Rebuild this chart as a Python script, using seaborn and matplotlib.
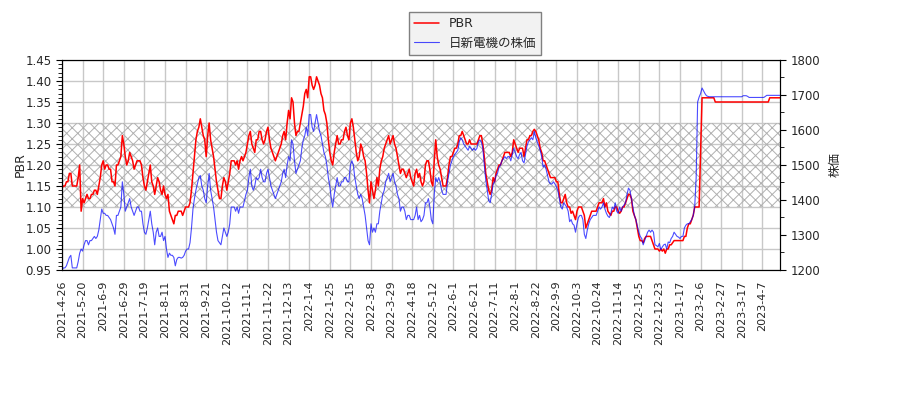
import numpy as np
import pandas as pd
import seaborn as sns
import matplotlib.pyplot as plt
from matplotlib.ticker import MultipleLocator

# x axis = trading day index, a label every 14 trading days
tick_labels = ["2021-4-26", "2021-5-20", "2021-6-9", "2021-6-29", "2021-7-19",
               "2021-8-11", "2021-8-31", "2021-9-21", "2021-10-12", "2021-11-1",
               "2021-11-22", "2021-12-13", "2022-1-4", "2022-1-25", "2022-2-15",
               "2022-3-8", "2022-3-29", "2022-4-18", "2022-5-12", "2022-6-1",
               "2022-6-21", "2022-7-11", "2022-8-1", "2022-8-22", "2022-9-9",
               "2022-10-3", "2022-10-24", "2022-11-14", "2022-12-5", "2022-12-23",
               "2023-1-17", "2023-2-6", "2023-2-27", "2023-3-17", "2023-4-7"]

pbr = [
    1.145, 1.15, 1.15, 1.16, 1.16, 1.18, 1.18, 1.15, 1.15, 1.15,
    1.15, 1.17, 1.20, 1.09, 1.12, 1.11, 1.12, 1.13, 1.12, 1.12,
    1.13, 1.13, 1.14, 1.14, 1.13, 1.15, 1.17, 1.20, 1.21, 1.19,
    1.20, 1.20, 1.19, 1.19, 1.16, 1.16, 1.15, 1.20, 1.20, 1.21,
    1.22, 1.27, 1.25, 1.22, 1.20, 1.21, 1.23, 1.22, 1.21, 1.19,
    1.20, 1.21, 1.21, 1.21, 1.20, 1.17, 1.15, 1.14, 1.16, 1.18,
    1.20, 1.16, 1.15, 1.13, 1.15, 1.17, 1.16, 1.14, 1.13, 1.15,
    1.13, 1.12, 1.13, 1.09, 1.08, 1.07, 1.06, 1.08, 1.08, 1.09,
    1.09, 1.09, 1.08, 1.09, 1.10, 1.10, 1.10, 1.11, 1.14, 1.18,
    1.22, 1.26, 1.28, 1.29, 1.31, 1.29, 1.27, 1.26, 1.22, 1.27,
    1.30, 1.26, 1.24, 1.22, 1.19, 1.16, 1.14, 1.12, 1.12, 1.15,
    1.17, 1.16, 1.14, 1.16, 1.18, 1.21, 1.21, 1.21, 1.20, 1.21,
    1.19, 1.21, 1.22, 1.21, 1.22, 1.23, 1.25, 1.27, 1.28, 1.25,
    1.24, 1.23, 1.26, 1.26, 1.28, 1.28, 1.26, 1.25, 1.26, 1.28,
    1.29, 1.26, 1.24, 1.23, 1.22, 1.21, 1.22, 1.23, 1.24, 1.25,
    1.27, 1.28, 1.26, 1.30, 1.33, 1.31, 1.36, 1.35, 1.30, 1.27,
    1.28, 1.28, 1.30, 1.32, 1.34, 1.37, 1.38, 1.36, 1.41, 1.41,
    1.39, 1.38, 1.39, 1.41, 1.40, 1.39, 1.37, 1.36, 1.33, 1.32,
    1.30, 1.26, 1.23, 1.21, 1.20, 1.23, 1.25, 1.27, 1.25, 1.25,
    1.26, 1.26, 1.28, 1.29, 1.27, 1.26, 1.30, 1.31, 1.29, 1.26,
    1.23, 1.21, 1.22, 1.25, 1.24, 1.22, 1.21, 1.18, 1.14, 1.11,
    1.16, 1.14, 1.12, 1.14, 1.17, 1.15, 1.19, 1.21, 1.22, 1.24,
    1.25, 1.26, 1.27, 1.25, 1.26, 1.27, 1.25, 1.24, 1.22, 1.20,
    1.18, 1.19, 1.19, 1.18, 1.17, 1.18, 1.19, 1.17, 1.16, 1.15,
    1.18, 1.19, 1.17, 1.18, 1.16, 1.15, 1.16, 1.20, 1.21, 1.21,
    1.19, 1.16, 1.15, 1.21, 1.26, 1.22, 1.20, 1.19, 1.17, 1.15,
    1.15, 1.15, 1.17, 1.20, 1.22, 1.22, 1.23, 1.24, 1.24, 1.25,
    1.27, 1.27, 1.28, 1.27, 1.26, 1.25, 1.25, 1.26, 1.25, 1.25,
    1.25, 1.25, 1.25, 1.26, 1.27, 1.27, 1.25, 1.22, 1.18, 1.16,
    1.14, 1.13, 1.14, 1.17, 1.16, 1.18, 1.19, 1.20, 1.20, 1.21,
    1.22, 1.23, 1.23, 1.23, 1.23, 1.22, 1.23, 1.26, 1.25, 1.24,
    1.23, 1.24, 1.24, 1.24, 1.22, 1.24, 1.26, 1.26, 1.27, 1.27,
    1.28, 1.285, 1.28, 1.27, 1.26, 1.24, 1.23, 1.21, 1.21, 1.20,
    1.19, 1.18, 1.17, 1.17, 1.17, 1.17, 1.16, 1.16, 1.13, 1.11,
    1.11, 1.12, 1.13, 1.11, 1.10, 1.10, 1.085, 1.09, 1.08, 1.07,
    1.09, 1.10, 1.10, 1.10, 1.09, 1.08, 1.05, 1.06, 1.07, 1.08,
    1.09, 1.09, 1.09, 1.09, 1.10, 1.11, 1.11, 1.11, 1.12, 1.10,
    1.11, 1.09, 1.085, 1.08, 1.09, 1.09, 1.10, 1.10, 1.09, 1.085,
    1.09, 1.10, 1.10, 1.11, 1.12, 1.13, 1.13, 1.12, 1.09, 1.08,
    1.07, 1.05, 1.03, 1.02, 1.02, 1.015, 1.025, 1.03, 1.03, 1.03,
    1.03, 1.02, 1.01, 1.00, 1.00, 1.00, 0.995, 1.00, 0.995, 1.00,
    0.99, 1.00, 1.00, 1.01, 1.01, 1.015, 1.02, 1.02, 1.02, 1.02,
    1.02, 1.02, 1.02, 1.03, 1.03, 1.05, 1.06, 1.06, 1.07, 1.08,
    1.10, 1.10, 1.10, 1.10, 1.23, 1.36, 1.36, 1.36, 1.36, 1.36,
    1.36, 1.36, 1.36, 1.36, 1.35, 1.35, 1.35, 1.35, 1.35, 1.35,
    1.35, 1.35, 1.35, 1.35, 1.35, 1.35, 1.35, 1.35, 1.35, 1.35,
    1.35, 1.35, 1.35, 1.35, 1.35, 1.35, 1.35, 1.35, 1.35, 1.35,
    1.35, 1.35, 1.35, 1.35, 1.35, 1.35, 1.35, 1.35, 1.35, 1.35,
    1.35, 1.36, 1.36, 1.36, 1.36, 1.36, 1.36, 1.36, 1.36,
]

price = [
    1200, 1206, 1206, 1212, 1224, 1236, 1242, 1206, 1206, 1206,
    1206, 1224, 1248, 1260, 1254, 1272, 1284, 1284, 1272, 1284,
    1284, 1290, 1296, 1290, 1296, 1314, 1344, 1374, 1362, 1362,
    1356, 1356, 1350, 1344, 1332, 1320, 1302, 1356, 1356, 1368,
    1380, 1452, 1416, 1368, 1380, 1392, 1404, 1380, 1368, 1356,
    1368, 1380, 1380, 1368, 1368, 1332, 1308, 1302, 1320, 1344,
    1368, 1332, 1308, 1272, 1308, 1320, 1296, 1296, 1308, 1284,
    1296, 1260, 1236, 1248, 1242, 1242, 1236, 1212, 1230, 1236,
    1236, 1234, 1236, 1242, 1254, 1260, 1260, 1278, 1320, 1374,
    1404, 1428, 1446, 1464, 1470, 1440, 1428, 1404, 1392, 1440,
    1476, 1428, 1404, 1380, 1344, 1308, 1284, 1278, 1272, 1296,
    1320, 1308, 1296, 1308, 1332, 1380, 1380, 1380, 1368, 1380,
    1362, 1380, 1380, 1380, 1398, 1416, 1428, 1464, 1488, 1440,
    1428, 1440, 1464, 1458, 1464, 1488, 1464, 1452, 1452, 1476,
    1488, 1464, 1440, 1428, 1416, 1404, 1416, 1428, 1440, 1452,
    1476, 1488, 1464, 1500, 1524, 1512, 1572, 1560, 1512, 1476,
    1488, 1500, 1512, 1548, 1572, 1584, 1608, 1584, 1644, 1644,
    1608, 1596, 1620, 1644, 1620, 1596, 1584, 1560, 1536, 1524,
    1500, 1464, 1440, 1404, 1380, 1416, 1440, 1464, 1440, 1440,
    1452, 1452, 1464, 1464, 1452, 1452, 1500, 1512, 1500, 1464,
    1440, 1416, 1404, 1416, 1404, 1380, 1356, 1320, 1284, 1272,
    1332, 1308, 1320, 1308, 1332, 1332, 1368, 1392, 1416, 1428,
    1452, 1464, 1476, 1452, 1464, 1476, 1452, 1440, 1416, 1404,
    1368, 1380, 1380, 1368, 1344, 1356, 1356, 1344, 1344, 1344,
    1356, 1380, 1344, 1356, 1338, 1344, 1356, 1392, 1392, 1404,
    1380, 1344, 1332, 1416, 1464, 1452, 1464, 1452, 1428, 1416,
    1416, 1416, 1452, 1476, 1500, 1512, 1524, 1530, 1536, 1542,
    1566, 1578, 1572, 1560, 1554, 1548, 1542, 1554, 1548, 1542,
    1548, 1542, 1548, 1566, 1572, 1566, 1548, 1500, 1458, 1428,
    1398, 1392, 1416, 1446, 1452, 1470, 1476, 1494, 1500, 1512,
    1518, 1524, 1518, 1524, 1524, 1512, 1530, 1548, 1536, 1524,
    1518, 1530, 1536, 1512, 1506, 1530, 1554, 1566, 1572, 1578,
    1572, 1596, 1578, 1566, 1554, 1542, 1524, 1494, 1500, 1488,
    1470, 1452, 1446, 1446, 1452, 1446, 1438, 1428, 1404, 1380,
    1374, 1392, 1386, 1380, 1368, 1338, 1344, 1332, 1328, 1308,
    1332, 1350, 1356, 1356, 1344, 1302, 1290, 1314, 1332, 1344,
    1350, 1356, 1356, 1356, 1368, 1380, 1374, 1380, 1392, 1374,
    1362, 1354, 1350, 1362, 1380, 1374, 1392, 1368, 1362, 1380,
    1368, 1380, 1386, 1392, 1416, 1434, 1428, 1404, 1380, 1356,
    1344, 1326, 1308, 1296, 1290, 1272, 1284, 1296, 1308, 1314,
    1308, 1314, 1308, 1272, 1270, 1266, 1276, 1258, 1266, 1272,
    1274, 1260, 1280, 1278, 1290, 1296, 1308, 1302, 1296, 1294,
    1290, 1296, 1296, 1320, 1328, 1332, 1332, 1338, 1344, 1356,
    1380, 1464, 1680, 1694, 1704, 1720, 1712, 1704, 1698, 1696,
    1695, 1695, 1695, 1695, 1695, 1695, 1695, 1695, 1695, 1695,
    1695, 1695, 1695, 1695, 1695, 1695, 1695, 1695, 1695, 1695,
    1695, 1695, 1695, 1698, 1698, 1698, 1696, 1693, 1693, 1693,
    1693, 1693, 1693, 1693, 1693, 1693, 1693, 1693, 1696, 1699,
    1699, 1699, 1699, 1699, 1699, 1699, 1699, 1699, 1699,
]

days = np.arange(len(pbr))
df = pd.DataFrame({"day": days, "PBR": pbr, "price": price})

sns.set_style("white")
plt.rcParams["font.family"] = ["DejaVu Sans", "Noto Sans CJK JP"]
plt.rcParams["hatch.linewidth"] = 0.7

fig = plt.figure(figsize=(9, 4), dpi=100)
ax1 = fig.add_axes([0.0689, 0.325, 0.7978, 0.525])
ax2 = ax1.twinx()

# PBR 1.1 - 1.3 band
ax1.axhspan(1.1, 1.3, fill=False, hatch="xxx", edgecolor="#b0b0b0", linewidth=0)

sns.lineplot(data=df, x="day", y="PBR", ax=ax1, color="red", lw=1.1, label="PBR", legend=False)
sns.lineplot(data=df, x="day", y="price", ax=ax2, color="blue", alpha=0.7, lw=0.8,
             label="日新電機の株価", legend=False)

ax1.set_xlim(0, len(days) - 1)
ax1.set_ylim(0.95, 1.45)
ax2.set_ylim(1200, 1800)

ax1.set_xticks(days[::14])
ax1.set_xticklabels(tick_labels, rotation=90, fontsize=8)
ax1.yaxis.set_major_locator(MultipleLocator(0.05))
ax1.yaxis.set_minor_locator(MultipleLocator(0.01))
ax2.yaxis.set_major_locator(MultipleLocator(100))
ax2.yaxis.set_minor_locator(MultipleLocator(50))
for ax in (ax1, ax2):
    ax.tick_params(axis="both", which="both", direction="out", length=3, labelsize=8.5, color="black")
    ax.tick_params(axis="both", which="major", length=4)
ax1.tick_params(axis="x", labelsize=8)
ax1.yaxis.set_major_formatter(plt.FormatStrFormatter("%.2f"))

ax1.grid(True, which="major", color="#c8c8c8", lw=1)
ax1.set_xlabel("")
ax1.set_ylabel("PBR", fontsize=9, labelpad=-1)
ax2.set_ylabel("株価", fontsize=9, labelpad=6)
for ax in (ax1, ax2):
    for s in ax.spines.values():
        s.set_color("black")
        s.set_linewidth(0.8)

h1, l1 = ax1.get_legend_handles_labels()
h2, l2 = ax2.get_legend_handles_labels()
leg = fig.legend(h1 + h2, l1 + l2, loc="upper center", bbox_to_anchor=(0.528, 0.985),
                 fontsize=9, fancybox=False, edgecolor="#808080", facecolor="#f2f2f2",
                 framealpha=1)
leg.get_frame().set_linewidth(1)

fig.savefig("out.png", dpi=100)
